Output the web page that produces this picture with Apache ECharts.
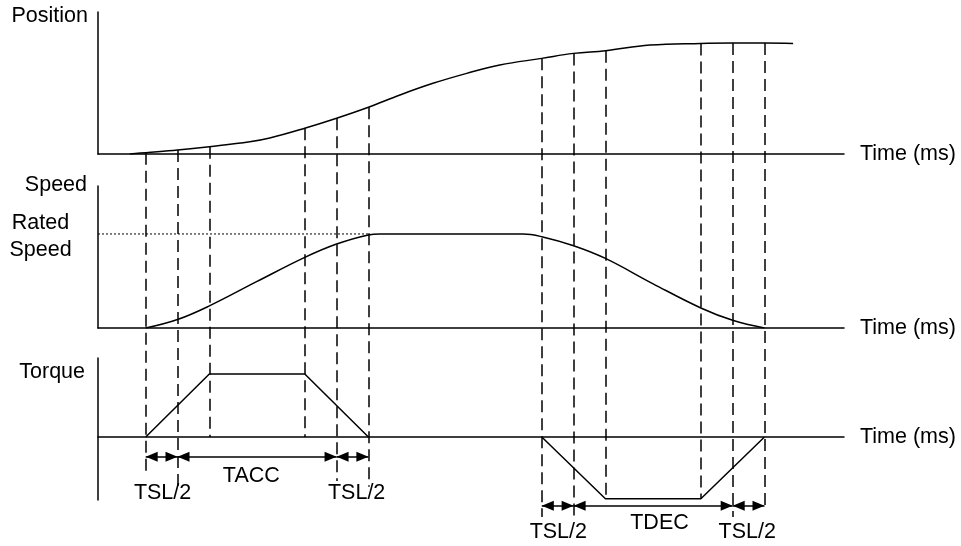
<!DOCTYPE html>
<html><head><meta charset="utf-8">
<script src="https://cdn.jsdelivr.net/npm/echarts@6/dist/echarts.min.js"></script>
<style>html,body{margin:0;padding:0;background:#fff;}#c{width:961px;height:546px;}</style>
</head><body><div id="c"></div>
<script>
// ---------------- data ----------------
const timeMin = -1.5, timeMax = 21.95;
const positionTimes  = [-0.5, 0, 1, 2, 3.27, 3.9, 5, 6, 7, 7.99, 9.03, 10.09, 11.13, 12.45, 13.45, 14.45, 15.85, 17.45, 18.45, 19.45, 20.35];
const positionValues = [0, 0.012, 0.036, 0.066, 0.11, 0.144, 0.232, 0.322, 0.421, 0.532, 0.637, 0.727, 0.802, 0.862, 0.907, 0.931, 0.982, 0.997, 1.0, 1.0, 0.997];
const speedTimes  = [0, 1, 2, 3.5, 5, 6, 7, 7.36, 11.86, 12.45, 13.45, 14.45, 15.95, 17.45, 18.45, 19.45];
const speedValues = [0, 0.09, 0.235, 0.495, 0.751, 0.893, 0.99, 1.0, 1.0, 0.971, 0.875, 0.74, 0.47, 0.213, 0.082, 0];
const ratedSpeed = 1;
const ratedSpeedUntil = 7;
const accelTorqueTimes  = [0, 2, 5, 7];
const accelTorqueValues = [0, 1, 1, 0];
const decelTorqueTimes  = [12.45, 14.45, 17.45, 19.45];
const decelTorqueValues = [0, -0.98, -0.98, 0];
const markerTimes = [0, 1, 2, 5, 6, 7, 12.45, 13.45, 14.45, 17.45, 18.45, 19.45];
const markerEnds  = [-0.6, -0.79, 0, 0, -0.7, -0.79, -1.27, -1.27, -0.98, -0.98, -1.27, -1.14];
const spanNames  = ['TSL/2', 'TACC', 'TSL/2', 'TSL/2', 'TDEC', 'TSL/2'];
const spanStarts = [0, 1, 6, 12.45, 13.45, 18.45];
const spanEnds   = [1, 6, 7, 13.45, 18.45, 19.45];
const axisTitles = ['Position', 'Speed', 'Torque'];
const timeTitle = 'Time (ms)';
const ratedTitle = 'Rated\nSpeed';

// ---------------- layout ----------------
const spanLevels = [-0.313, -0.313, -0.313, -1.09, -1.09, -1.09];
const spanLabelT = [0.53, 3.32, 6.63, 12.97, 16.15, 18.91];
const spanLabelV = [-0.89, -0.62, -0.89, -1.51, -1.37, -1.51];
const FONT = "'Liberation Sans', Arial, sans-serif";
const FS = 21.5;
const INK = '#000';
const LW = 1.5;

const zip = (a, b) => a.map((v, i) => [v, b[i]]);
const gridBase = { left: 98, right: 117 };
const grids = [
  Object.assign({ top: 12, height: 142 }, gridBase),
  Object.assign({ top: 186, height: 142 }, gridBase),
  Object.assign({ top: 358, height: 142 }, gridBase),
  Object.assign({ top: 358, height: 188 }, gridBase)
];
const nameCfg = [
  { gap: -4, pad: 10 },
  { gap: 1, pad: 11 },
  { gap: -14, pad: 13 }
];
const xAxes = grids.map((g, i) => ({
  type: 'value', gridIndex: i, min: timeMin, max: timeMax, show: i < 3,
  name: i < 3 ? timeTitle : '', nameLocation: 'end', nameGap: 16, nameMoveOverlap: false,
  nameTextStyle: { fontFamily: FONT, fontSize: FS, color: INK, align: 'left', verticalAlign: 'middle' },
  axisLine: { show: true, onZero: true, lineStyle: { color: INK, width: LW } },
  axisTick: { show: false }, axisLabel: { show: false }, splitLine: { show: false }
}));
const yRanges = [[0, 1.28], [0, 1.51], [-1, 1.254], [-1.73, 1.254]];
const yAxes = yRanges.map((r, i) => {
  const ax = {
    type: 'value', gridIndex: i, min: r[0], max: r[1], show: i < 3,
    axisLine: { show: true, onZero: false, lineStyle: { color: INK, width: LW } },
    axisTick: { show: false }, axisLabel: { show: false }, splitLine: { show: false }
  };
  if (i < 3) {
    ax.name = axisTitles[i];
    ax.nameLocation = 'end';
    ax.nameGap = nameCfg[i].gap;
    ax.nameMoveOverlap = false;
    ax.nameTextStyle = { fontFamily: FONT, fontSize: FS, color: INK, align: 'right', verticalAlign: 'middle', padding: [0, nameCfg[i].pad, 0, 0] };
  }
  return ax;
});

const curveStyle = { color: INK, width: LW };
const lineBase = { type: 'line', showSymbol: false, symbol: 'none', lineStyle: curveStyle, silent: true };
const labelPoint = { type: 'scatter', symbolSize: 1, clip: false, silent: true, itemStyle: { color: 'rgba(0,0,0,0)', opacity: 1 } };
const series = [
  Object.assign({ xAxisIndex: 0, yAxisIndex: 0, data: zip(positionTimes, positionValues), smooth: 0.4 }, lineBase),
  Object.assign({ xAxisIndex: 1, yAxisIndex: 1, data: zip(speedTimes, speedValues), smooth: 0.4 }, lineBase),
  Object.assign({}, lineBase, { xAxisIndex: 1, yAxisIndex: 1, data: [[timeMin, ratedSpeed], [ratedSpeedUntil, ratedSpeed]], lineStyle: { color: INK, width: 1, type: [2, 2] } }),
  Object.assign({}, labelPoint, {
    xAxisIndex: 1, yAxisIndex: 1,
    label: { show: true, position: 'left', distance: 57, align: 'center', verticalAlign: 'middle', offset: [0, 3], lineHeight: 27,
      formatter: ratedTitle, fontFamily: FONT, fontSize: FS, color: INK, opacity: 1 },
    data: [[timeMin, ratedSpeed]]
  }),
  Object.assign({ xAxisIndex: 2, yAxisIndex: 2, data: zip(accelTorqueTimes, accelTorqueValues) }, lineBase),
  Object.assign({ xAxisIndex: 2, yAxisIndex: 2, data: zip(decelTorqueTimes, decelTorqueValues) }, lineBase),
  Object.assign({}, labelPoint, {
    xAxisIndex: 3, yAxisIndex: 3,
    label: { show: true, position: 'inside', formatter: '{b}', fontFamily: FONT, fontSize: FS, color: INK, opacity: 1 },
    data: spanNames.map((n, i) => ({ name: n, value: [spanLabelT[i], spanLabelV[i]] })),
    markLine: {
      silent: true, symbol: ['triangle', 'triangle'], symbolSize: [10, 12], symbolOffset: [[0, 6], [0, 6]],
      label: { show: false }, lineStyle: { color: INK, width: LW, type: 'solid', opacity: 1 },
      itemStyle: { color: INK, opacity: 1 },
      emphasis: { disabled: true },
      data: spanStarts.map((s, i) => [{ coord: [s, spanLevels[i]] }, { coord: [spanEnds[i], spanLevels[i]] }])
    }
  })
];

const chart = echarts.init(document.getElementById('c'), null, { renderer: 'canvas' });
chart.setOption({ animation: false, backgroundColor: '#fff', grid: grids, xAxis: xAxes, yAxis: yAxes, series: series });

// dashed time markers: from the position curve down into the torque panel
const markerCoords = markerTimes.map((t, i) => {
  const k = positionTimes.indexOf(t);
  const p = positionValues[k];
  const pix = chart.convertToPixel({ xAxisIndex: 0, yAxisIndex: 0 }, [t, p]);
  const top = chart.convertFromPixel({ xAxisIndex: 3, yAxisIndex: 3 }, pix)[1];
  return { coords: [[t, top], [t, markerEnds[i]]] };
});
series.push({
  type: 'lines', coordinateSystem: 'cartesian2d', xAxisIndex: 3, yAxisIndex: 3, clip: false, silent: true,
  lineStyle: { color: INK, width: LW, type: [12, 6], opacity: 1, curveness: 0 },
  data: markerCoords
});
chart.setOption({ series: series });
</script></body></html>
